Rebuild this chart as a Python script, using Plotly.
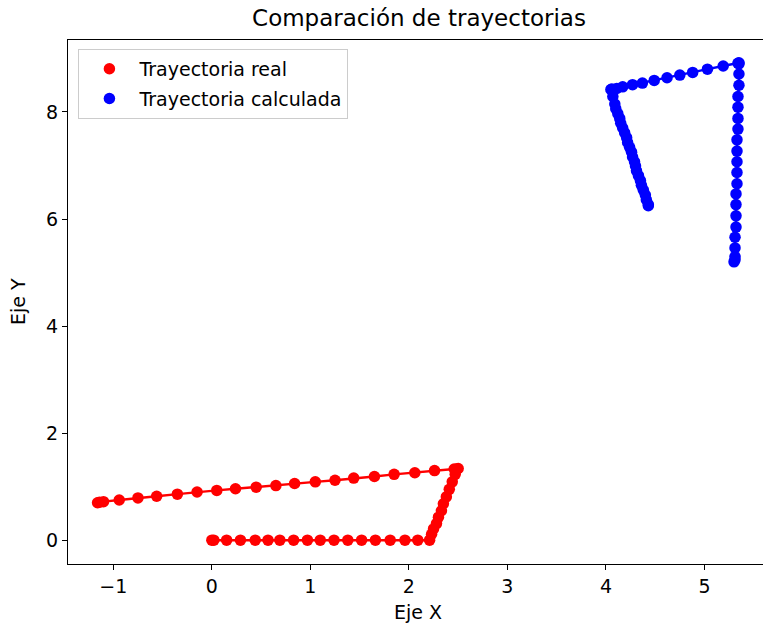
import plotly.graph_objects as go

# Real trajectory: straight run along X, climb, then long return leg to the left
real_x = [0.00, 0.02, 0.15, 0.29, 0.44, 0.57, 0.69, 0.83, 0.97, 1.10, 1.24, 1.38,
          1.52, 1.66, 1.81, 1.96, 2.09, 2.21,
          2.23, 2.25, 2.28, 2.30, 2.33, 2.35, 2.38, 2.41, 2.44, 2.47, 2.49,
          2.50, 2.46, 2.26, 2.06, 1.85, 1.65, 1.44, 1.25, 1.05, 0.84, 0.65,
          0.45, 0.24, 0.05, -0.15, -0.35, -0.56, -0.75, -0.94, -1.10, -1.14, -1.16]
real_y = [0.00, 0.00, 0.00, 0.00, 0.00, 0.00, 0.00, 0.00, 0.00, 0.00, 0.00, 0.00,
          0.00, 0.00, 0.00, 0.00, 0.00, 0.00,
          0.11, 0.21, 0.31, 0.43, 0.55, 0.68, 0.81, 0.95, 1.09, 1.23, 1.33,
          1.34, 1.33, 1.30, 1.26, 1.23, 1.19, 1.16, 1.12, 1.09, 1.06, 1.02,
          0.99, 0.96, 0.93, 0.90, 0.86, 0.82, 0.79, 0.75, 0.72, 0.71, 0.70]

# Calculated trajectory
calc_x = [4.43, 4.43, 4.41, 4.40, 4.38, 4.36, 4.35, 4.33, 4.31, 4.30, 4.29, 4.27,
          4.26, 4.24, 4.22, 4.21, 4.19, 4.17, 4.15, 4.14, 4.12, 4.10, 4.09, 4.07, 4.05,
          4.06, 4.11, 4.17, 4.27, 4.37, 4.49, 4.62, 4.75, 4.88, 5.03, 5.19, 5.34,
          5.35, 5.35, 5.35, 5.35, 5.34, 5.34, 5.34, 5.34, 5.33, 5.33, 5.33,
          5.33, 5.33, 5.32, 5.32, 5.32, 5.32, 5.31, 5.31, 5.31, 5.31, 5.30]
calc_y = [6.25, 6.27, 6.36, 6.45, 6.54, 6.63, 6.72, 6.81, 6.90, 6.99, 7.07, 7.16,
          7.25, 7.34, 7.43, 7.52, 7.61, 7.70, 7.79, 7.88, 7.97, 8.06, 8.15, 8.29, 8.42,
          8.43, 8.44, 8.47, 8.51, 8.54, 8.59, 8.64, 8.69, 8.74, 8.80, 8.86, 8.91,
          8.92, 8.90, 8.71, 8.50, 8.29, 8.09, 7.88, 7.68, 7.48, 7.27, 7.07,
          6.87, 6.66, 6.47, 6.27, 6.06, 5.85, 5.66, 5.46, 5.30, 5.24, 5.20]

x_ticks = [-1, 0, 1, 2, 3, 4, 5]
x_tick_labels = ["\u22121", "0", "1", "2", "3", "4", "5"]
y_ticks = [0, 2, 4, 6, 8]
y_tick_labels = ["0", "2", "4", "6", "8"]

FONT = "DejaVu Sans"
RED = "#ff0000"
BLUE = "#0000ff"

fig = go.Figure()

# Connecting paths (not in legend)
fig.add_trace(go.Scatter(x=real_x, y=real_y, mode="lines",
                         line=dict(color=RED, width=2.4),
                         showlegend=False, hoverinfo="skip"))
fig.add_trace(go.Scatter(x=calc_x, y=calc_y, mode="lines",
                         line=dict(color=BLUE, width=2.4),
                         showlegend=False, hoverinfo="skip"))

# Point markers
fig.add_trace(go.Scatter(x=real_x, y=real_y, mode="markers",
                         name="Trayectoria real", legendgroup="real",
                         marker=dict(color=RED, size=11.5, line=dict(width=0))))
fig.add_trace(go.Scatter(x=calc_x, y=calc_y, mode="markers",
                         name="Trayectoria calculada", legendgroup="calc",
                         marker=dict(color=BLUE, size=11.5, line=dict(width=0))))

axis_common = dict(
    showline=True, linecolor="black", linewidth=1.1,
    ticks="outside", ticklen=5, tickwidth=1.1, tickcolor="black",
    showgrid=False, zeroline=False,
    tickfont=dict(family=FONT, size=19, color="black"),
)

fig.update_xaxes(range=[-1.46, 5.594], tickvals=x_ticks, ticktext=x_tick_labels,
                 mirror=True, **axis_common)
fig.update_yaxes(range=[-0.445, 9.345], tickvals=y_ticks, ticktext=y_tick_labels,
                 mirror=False, **axis_common)

fig.update_layout(
    width=763, height=627,
    margin=dict(l=68, r=0, t=40, b=63),
    paper_bgcolor="white", plot_bgcolor="white",
    font=dict(family=FONT, size=19, color="black"),
    title=dict(text="Comparación de trayectorias", x=419 / 763, xref="container",
               xanchor="center", y=1 - 18 / 627, yref="container", yanchor="middle",
               font=dict(family=FONT, size=23, color="black")),
    legend=dict(x=0.015, y=0.983, xanchor="left", yanchor="top",
                bgcolor="rgba(255,255,255,0.8)", bordercolor="#cccccc", borderwidth=1,
                font=dict(family=FONT, size=19, color="black"),
                tracegroupgap=2, itemwidth=50),
    annotations=[
        dict(text="Eje X", xref="paper", yref="paper", x=(418 - 68) / 695,
             y=(564 - 612) / 524, xanchor="center", yanchor="middle",
             showarrow=False, font=dict(family=FONT, size=19, color="black")),
        dict(text="Eje Y", xref="paper", yref="paper", x=(18 - 68) / 695,
             y=0.5, xanchor="center", yanchor="middle", textangle=-90,
             showarrow=False, font=dict(family=FONT, size=19, color="black")),
    ],
)

fig.write_html("out.html")
